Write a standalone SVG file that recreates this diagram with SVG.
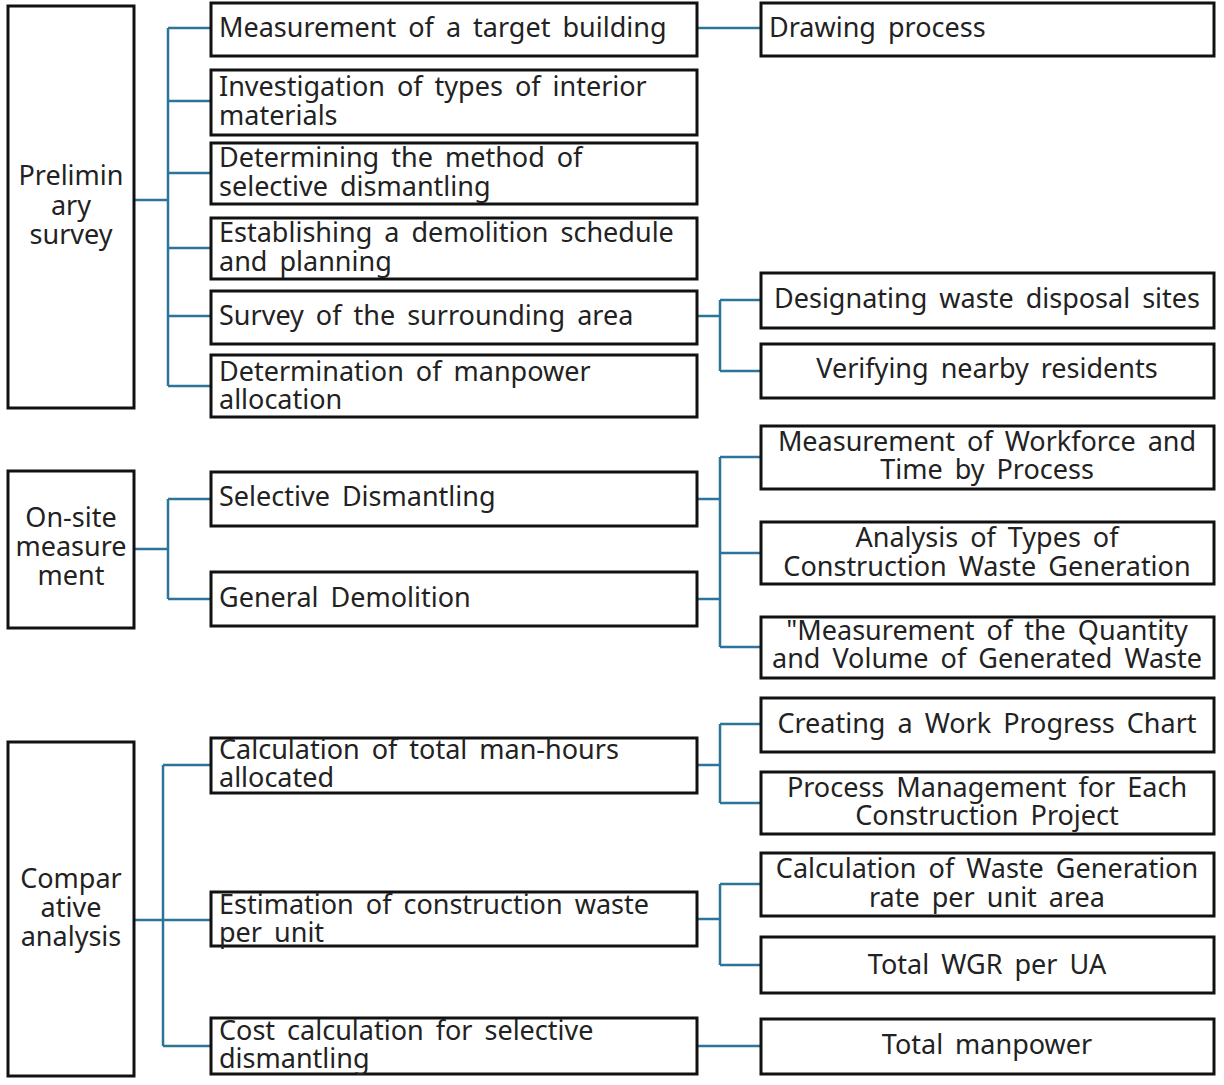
<svg xmlns="http://www.w3.org/2000/svg" width="1224" height="1085" viewBox="0 0 1224 1085">
<style>
.b{fill:#fff;stroke:#111;stroke-width:3}
.t{font-family:"Noto Sans","Open Sans",sans-serif;font-size:27px;word-spacing:5px;fill:#222}
.c{text-anchor:middle}
.k{fill:none;stroke:#2b7598;stroke-width:2.5}
</style>
<rect width="1224" height="1085" fill="#fff"/>
<g id="connectors">
<path class="k" d="M134 200H168M168 28V386M168 28H211M168 101H211M168 173H211M168 248H211M168 316H211M168 386H211"/>
<path class="k" d="M697 28H761"/>
<path class="k" d="M697 316H720M720 300V371M720 300H761M720 371H761"/>
<path class="k" d="M134 549H168M168 499V599M168 499H211M168 599H211"/>
<path class="k" d="M697 499H720M697 599H720M720 457V647M720 457H761M720 553H761M720 647H761"/>
<path class="k" d="M134 920H211M163 765V1046M163 765H211M163 1046H211"/>
<path class="k" d="M697 765H720M720 724V803M720 724H761M720 803H761"/>
<path class="k" d="M697 919H720M720 884V965M720 884H761M720 965H761"/>
<path class="k" d="M697 1046H761"/>
</g>
<g id="n-prelim"><rect class="b" x="8" y="6" width="126" height="402"/><text class="t c" x="71" y="185">Prelimin</text><text class="t c" x="71" y="215">ary</text><text class="t c" x="71" y="244">survey</text></g>
<g id="n-onsite"><rect class="b" x="8" y="471" width="126" height="157"/><text class="t c" x="71" y="527">On-site</text><text class="t c" x="71" y="556">measure</text><text class="t c" x="71" y="585">ment</text></g>
<g id="n-compar"><rect class="b" x="8" y="742" width="126" height="334"/><text class="t c" x="71" y="888">Compar</text><text class="t c" x="71" y="917">ative</text><text class="t c" x="71" y="946">analysis</text></g>

<g id="n-m1"><rect class="b" x="211" y="3" width="486" height="53"/><text class="t" x="219" y="37">Measurement of a target building</text></g>
<g id="n-m2"><rect class="b" x="211" y="70" width="486" height="65"/><text class="t" x="219" y="96">Investigation of types of interior</text><text class="t" x="219" y="125">materials</text></g>
<g id="n-m3"><rect class="b" x="211" y="143" width="486" height="61"/><text class="t" x="219" y="167">Determining the method of</text><text class="t" x="219" y="196">selective dismantling</text></g>
<g id="n-m4"><rect class="b" x="211" y="218" width="486" height="61"/><text class="t" x="219" y="242">Establishing a demolition schedule</text><text class="t" x="219" y="271">and planning</text></g>
<g id="n-m5"><rect class="b" x="211" y="291" width="486" height="53"/><text class="t" x="219" y="325">Survey of the surrounding area</text></g>
<g id="n-m6"><rect class="b" x="211" y="355" width="486" height="62"/><text class="t" x="219" y="381">Determination of manpower</text><text class="t" x="219" y="409">allocation</text></g>
<g id="n-m7"><rect class="b" x="211" y="472" width="486" height="54"/><text class="t" x="219" y="506">Selective Dismantling</text></g>
<g id="n-m8"><rect class="b" x="211" y="572" width="486" height="54"/><text class="t" x="219" y="607">General Demolition</text></g>
<g id="n-m9"><rect class="b" x="211" y="738" width="486" height="55"/><text class="t" x="219" y="759">Calculation of total man-hours</text><text class="t" x="219" y="787">allocated</text></g>
<g id="n-m10"><rect class="b" x="211" y="892" width="486" height="54"/><text class="t" x="219" y="914">Estimation of construction waste</text><text class="t" x="219" y="942">per unit</text></g>
<g id="n-m11"><rect class="b" x="211" y="1018" width="486" height="56"/><text class="t" x="219" y="1040">Cost calculation for selective</text><text class="t" x="219" y="1068">dismantling</text></g>

<g id="n-r1"><rect class="b" x="761" y="3" width="453" height="53"/><text class="t" x="769" y="37">Drawing process</text></g>
<g id="n-r2"><rect class="b" x="761" y="273" width="453" height="55"/><text class="t c" x="987" y="308">Designating waste disposal sites</text></g>
<g id="n-r3"><rect class="b" x="761" y="344" width="453" height="54"/><text class="t c" x="987" y="378">Verifying nearby residents</text></g>
<g id="n-r4"><rect class="b" x="761" y="426" width="453" height="63"/><text class="t c" x="987" y="451">Measurement of Workforce and</text><text class="t c" x="987" y="479">Time by Process</text></g>
<g id="n-r5"><rect class="b" x="761" y="522" width="453" height="62"/><text class="t c" x="987" y="547">Analysis of Types of</text><text class="t c" x="987" y="576">Construction Waste Generation</text></g>
<g id="n-r6"><rect class="b" x="761" y="617" width="453" height="61"/><text class="t c" x="987" y="640">"Measurement of the Quantity</text><text class="t c" x="987" y="668">and Volume of Generated Waste</text></g>
<g id="n-r7"><rect class="b" x="761" y="698" width="453" height="54"/><text class="t c" x="987" y="733">Creating a Work Progress Chart</text></g>
<g id="n-r8"><rect class="b" x="761" y="772" width="453" height="62"/><text class="t c" x="987" y="797">Process Management for Each</text><text class="t c" x="987" y="825">Construction Project</text></g>
<g id="n-r9"><rect class="b" x="761" y="853" width="453" height="63"/><text class="t c" x="987" y="878">Calculation of Waste Generation</text><text class="t c" x="987" y="907">rate per unit area</text></g>
<g id="n-r10"><rect class="b" x="761" y="937" width="453" height="56"/><text class="t c" x="987" y="974">Total WGR per UA</text></g>
<g id="n-r11"><rect class="b" x="761" y="1019" width="453" height="55"/><text class="t c" x="987" y="1054">Total manpower</text></g>
</svg>
